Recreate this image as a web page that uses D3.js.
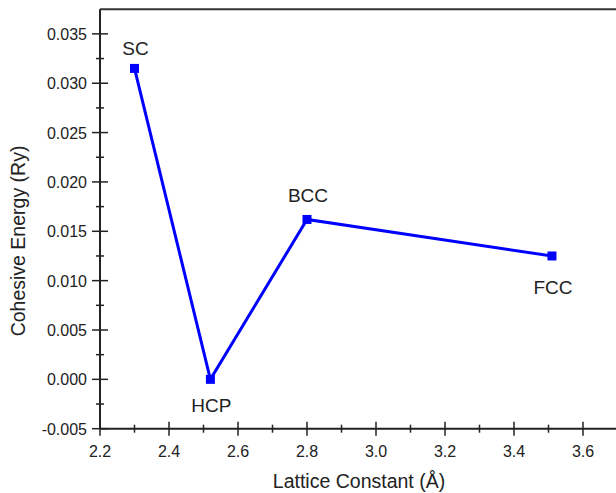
<!DOCTYPE html>
<html>
<head>
<meta charset="utf-8">
<script src="https://cdn.jsdelivr.net/npm/d3@7"></script>
<style>
  body { margin: 0; background: #fff; }
  text { font-family: "Liberation Sans", Arial, sans-serif; fill: #222; }
</style>
</head>
<body>
<svg width="616" height="493"></svg>
<script>
// structure names and values
var phases = ['SC', 'HCP', 'BCC', 'FCC'];
var latticeConst = [2.30, 2.52, 2.80, 3.51];
var cohesiveEnergy = [0.0315, 0.0000, 0.0162, 0.0125];

var xTicks = [2.2, 2.4, 2.6, 2.8, 3.0, 3.2, 3.4, 3.6];
var yTicks = [-0.005, 0.000, 0.005, 0.010, 0.015, 0.020, 0.025, 0.030, 0.035];

// label placement (pixels from the marker)
var labelDy = { SC: -13, HCP: 33, BCC: -17, FCC: 38 };

var svg = d3.select('svg');

var x = d3.scaleLinear().domain([2.2, 3.7]).range([100, 617.5]);
var y = d3.scaleLinear().domain([-0.005, 0.0375]).range([428.7, 9.2]);

// top frame line
svg.append('line')
  .attr('x1', x(2.2)).attr('x2', 616)
  .attr('y1', y(0.0375)).attr('y2', y(0.0375))
  .attr('stroke', '#333').attr('stroke-width', 2);

// major / minor ticks crossing the axes
var xMinor = d3.range(2.3, 3.75, 0.2);
var yMinor = d3.range(-0.0025, 0.037, 0.005);

var xAxisG = svg.append('g');
xAxisG.append('line')
  .attr('x1', x(2.2)).attr('x2', 616)
  .attr('y1', y(-0.005)).attr('y2', y(-0.005))
  .attr('stroke', '#222').attr('stroke-width', 2);
xAxisG.selectAll('.maj').data(xTicks).enter().append('line')
  .attr('x1', function (d) { return x(d); })
  .attr('x2', function (d) { return x(d); })
  .attr('y1', y(-0.005) - 7).attr('y2', y(-0.005) + 7)
  .attr('stroke', '#222').attr('stroke-width', 1.5);
xAxisG.selectAll('.min').data(xMinor).enter().append('line')
  .attr('x1', function (d) { return x(d); })
  .attr('x2', function (d) { return x(d); })
  .attr('y1', y(-0.005) - 4).attr('y2', y(-0.005) + 4)
  .attr('stroke', '#222').attr('stroke-width', 1.5);
xAxisG.selectAll('text').data(xTicks).enter().append('text')
  .attr('x', function (d) { return x(d); })
  .attr('y', 457)
  .attr('text-anchor', 'middle')
  .style('font-size', '16px')
  .text(function (d) { return d.toFixed(1); });

var yAxisG = svg.append('g');
yAxisG.append('line')
  .attr('x1', x(2.2)).attr('x2', x(2.2))
  .attr('y1', y(-0.005)).attr('y2', y(0.0375))
  .attr('stroke', '#222').attr('stroke-width', 2);
yAxisG.selectAll('.maj').data(yTicks).enter().append('line')
  .attr('x1', x(2.2) - 8).attr('x2', x(2.2) + 8)
  .attr('y1', function (d) { return y(d); })
  .attr('y2', function (d) { return y(d); })
  .attr('stroke', '#222').attr('stroke-width', 1.5);
yAxisG.selectAll('.min').data(yMinor).enter().append('line')
  .attr('x1', x(2.2) - 4).attr('x2', x(2.2) + 4)
  .attr('y1', function (d) { return y(d); })
  .attr('y2', function (d) { return y(d); })
  .attr('stroke', '#222').attr('stroke-width', 1.5);
yAxisG.selectAll('text').data(yTicks).enter().append('text')
  .attr('x', 87)
  .attr('y', function (d) { return y(d) + 6; })
  .attr('text-anchor', 'end')
  .style('font-size', '16px')
  .text(function (d) { return d3.format('.3f')(d).replace('−', '-'); });

// axis titles
svg.append('text')
  .attr('x', 359).attr('y', 488)
  .attr('text-anchor', 'middle')
  .style('font-size', '19.5px')
  .text('Lattice Constant (Å)');
svg.append('text')
  .attr('transform', 'translate(25,' + 241 + ') rotate(-90)')
  .attr('text-anchor', 'middle')
  .style('font-size', '19.5px')
  .text('Cohesive Energy (Ry)');

// data line and markers
var pts = phases.map(function (p, i) {
  return { name: p, x: latticeConst[i], y: cohesiveEnergy[i] };
});

svg.append('path')
  .datum(pts)
  .attr('fill', 'none')
  .attr('stroke', '#0000ff')
  .attr('stroke-width', 3)
  .attr('d', d3.line().x(function (d) { return x(d.x); }).y(function (d) { return y(d.y); }));

svg.selectAll('rect.pt').data(pts).enter().append('rect')
  .attr('class', 'pt')
  .attr('x', function (d) { return x(d.x) - 4.5; })
  .attr('y', function (d) { return y(d.y) - 4.5; })
  .attr('width', 9).attr('height', 9)
  .attr('fill', '#0000ff');

svg.selectAll('text.lbl').data(pts).enter().append('text')
  .attr('class', 'lbl')
  .attr('x', function (d) { return x(d.x) + 1; })
  .attr('y', function (d) { return y(d.y) + labelDy[d.name]; })
  .attr('text-anchor', 'middle')
  .style('font-size', '19px')
  .text(function (d) { return d.name; });
</script>
</body>
</html>
